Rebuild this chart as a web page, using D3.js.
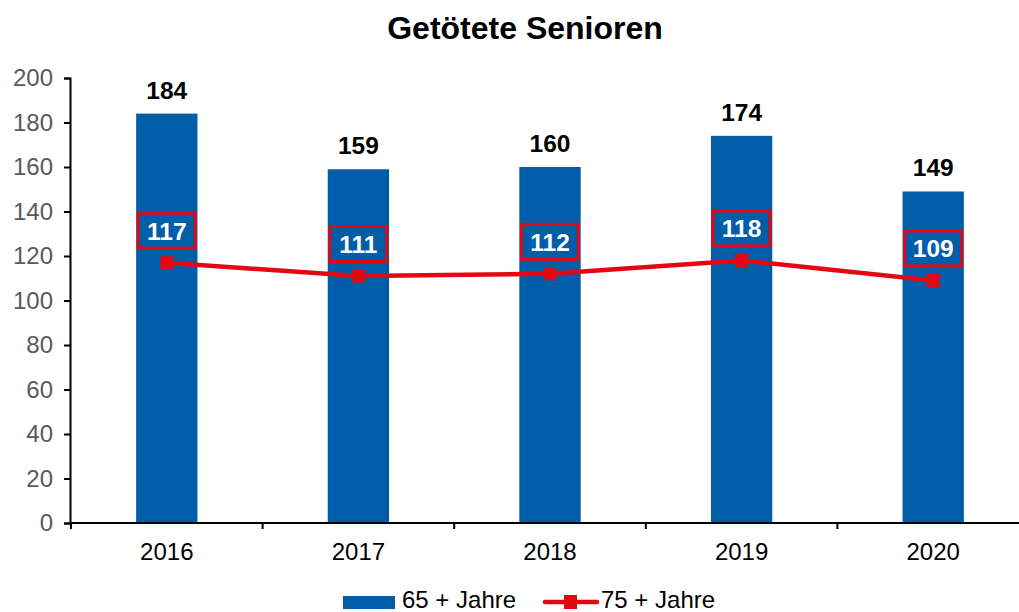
<!DOCTYPE html>
<html>
<head>
<meta charset="utf-8">
<script src="https://cdn.jsdelivr.net/npm/d3@7"></script>
<style>
body { margin: 0; background: #fff; }
svg { font-family: "Liberation Sans", Arial, sans-serif; display: block; }
</style>
</head>
<body>
<svg id="chart" width="1019" height="612"></svg>
<script>
const years = ["2016", "2017", "2018", "2019", "2020"];
const senioren65 = [184, 159, 160, 174, 149];
const senioren75 = [117, 111, 112, 118, 109];
const yTicks = [0, 20, 40, 60, 80, 100, 120, 140, 160, 180, 200];

const blue = "#005DA8";
const red = "#E30613";

const svg = d3.select("#chart");

// scales (plot runs past the right edge, as in the original)
const x = d3.scaleBand().domain(years).range([71, 1029]).paddingInner(0.68).paddingOuter(0.34);
const xc = d => x(d) + x.bandwidth() / 2;
const y = d3.scaleLinear().domain([0, 200]).range([523, 78]);

svg.append("text")
    .attr("x", 525).attr("y", 39)
    .attr("text-anchor", "middle")
    .attr("font-size", 32).attr("font-weight", "bold")
    .text("Getötete Senioren");

// y axis
const yAxis = svg.append("g")
    .attr("transform", "translate(70,0)")
    .call(d3.axisLeft(y).tickValues(yTicks).tickSize(6).tickPadding(11));
yAxis.selectAll("path, line").attr("stroke", "#000").attr("stroke-width", 2);
yAxis.selectAll("text").attr("font-size", 24).attr("fill", "#595959").attr("font-family", "Liberation Sans, Arial, sans-serif");

// bars
svg.append("g").selectAll("rect")
    .data(years)
    .enter().append("rect")
    .attr("x", d => x(d))
    .attr("width", x.bandwidth())
    .attr("y", (d, i) => y(senioren65[i]))
    .attr("height", (d, i) => y(0) - y(senioren65[i]))
    .attr("fill", blue);

// x axis
const xAxisG = svg.append("g").attr("transform", "translate(0,523)");
xAxisG.append("line").attr("x1", 70).attr("x2", 1019).attr("stroke", "#000").attr("stroke-width", 2);
xAxisG.selectAll(".tk")
    .data(years)
    .enter().append("line")
    .attr("x1", d => x(d) - x.step() * 0.34).attr("x2", d => x(d) - x.step() * 0.34)
    .attr("y1", 0).attr("y2", 6)
    .attr("stroke", "#000").attr("stroke-width", 2);
xAxisG.selectAll("text")
    .data(years)
    .enter().append("text")
    .attr("x", d => xc(d)).attr("y", 37)
    .attr("text-anchor", "middle")
    .attr("font-size", 24).attr("fill", "#000")
    .text(d => d);

// bar labels
svg.append("g").selectAll("text")
    .data(years)
    .enter().append("text")
    .attr("x", d => xc(d))
    .attr("y", (d, i) => y(senioren65[i]) - 15)
    .attr("text-anchor", "middle")
    .attr("font-size", 24.5).attr("font-weight", "bold")
    .text((d, i) => senioren65[i]);

// line series
const line = d3.line().x((d, i) => xc(years[i])).y(d => y(d));
svg.append("path")
    .datum(senioren75)
    .attr("d", line)
    .attr("fill", "none")
    .attr("stroke", red)
    .attr("stroke-width", 4.5);
svg.append("g").selectAll("rect")
    .data(senioren75)
    .enter().append("rect")
    .attr("x", (d, i) => xc(years[i]) - 6.5)
    .attr("y", d => y(d) - 6.5)
    .attr("width", 13).attr("height", 13)
    .attr("fill", red);

// boxed line labels
const lab = svg.append("g").selectAll("g")
    .data(senioren75)
    .enter().append("g")
    .attr("transform", (d, i) => `translate(${xc(years[i])},${y(d) - 32})`);
lab.append("rect")
    .attr("x", -28.5).attr("y", -17.5)
    .attr("width", 57).attr("height", 35)
    .attr("fill", blue)
    .attr("stroke", red).attr("stroke-width", 3);
lab.append("text")
    .attr("y", 9)
    .attr("text-anchor", "middle")
    .attr("font-size", 24.5).attr("font-weight", "bold")
    .attr("fill", "#fff")
    .text(d => d);

// legend
const leg = svg.append("g");
leg.append("rect").attr("x", 343).attr("y", 596).attr("width", 52).attr("height", 13).attr("fill", blue);
leg.append("text").attr("x", 402).attr("y", 608).attr("font-size", 24).text("65 + Jahre");
leg.append("line").attr("x1", 545).attr("x2", 597).attr("y1", 602).attr("y2", 602).attr("stroke", red).attr("stroke-width", 4.5).attr("stroke-linecap", "round");
leg.append("rect").attr("x", 564).attr("y", 595).attr("width", 13).attr("height", 14).attr("fill", red);
leg.append("text").attr("x", 601).attr("y", 608).attr("font-size", 24).text("75 + Jahre");
</script>
</body>
</html>
